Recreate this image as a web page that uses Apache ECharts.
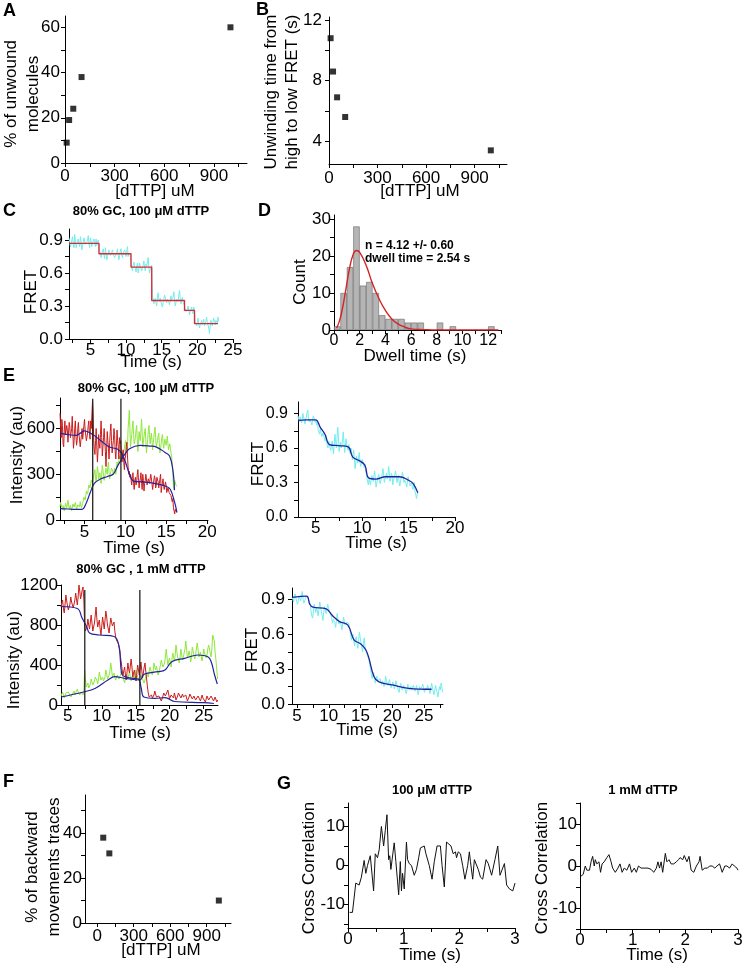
<!DOCTYPE html>
<html><head><meta charset="utf-8">
<script src="https://cdn.jsdelivr.net/npm/echarts@6/dist/echarts.min.js"></script>
<style>html,body{margin:0;padding:0;background:#fff}#c{width:745px;height:968px}</style>
</head><body><div id="c"></div>
<script>
// ---------- DATA ----------
// A: % of unwound molecules vs [dTTP]
const A_dttp = [10, 25, 50, 100, 1000];
const A_pct = [9, 19, 24, 38, 60];
// B: unwinding time vs [dTTP]
const B_dttp = [10, 25, 50, 100, 1000];
const B_time = [10.8, 8.6, 6.9, 5.6, 3.4];
// C: FRET trace (sampled from t0 with step dt) and step fit
const C_t0 = 2.0, C_dt = 0.1;
const C_fret = [0.92,0.88,0.84,0.87,0.90,0.93,0.86,0.83,0.95,0.89,0.83,0.86,0.89,0.91,0.87,0.84,0.93,0.88,0.81,0.85,
  0.88,0.92,0.91,0.86,0.85,0.88,0.90,0.94,0.86,0.83,0.92,0.89,0.84,0.87,0.89,0.91,0.87,0.84,0.91,0.85,0.88,0.90,0.86,
  0.80,0.77,0.74,0.78,0.79,0.82,0.76,0.73,0.83,0.78,0.72,0.75,0.78,0.81,0.80,0.76,0.75,0.79,0.81,0.77,
  0.77,0.74,0.73,0.77,0.79,0.82,0.76,0.72,0.76,0.80,0.82,0.77,0.74,0.78,0.78,0.81,0.80,0.75,0.76,0.84,0.75,0.78,0.79,0.76,
  0.68,0.64,0.62,0.67,0.70,0.66,0.64,0.61,0.66,0.69,0.60,0.64,0.69,0.66,0.65,0.62,0.63,0.67,0.71,0.65,
  0.62,0.68,0.66,0.70,0.74,0.65,0.60,0.63,0.65,0.67,
  0.40,0.36,0.32,0.35,0.37,0.33,0.30,0.38,0.42,0.36,0.34,0.37,0.38,0.31,0.29,0.33,0.36,0.40,0.41,0.35,
  0.33,0.36,0.37,0.34,0.31,0.35,0.39,0.36,0.35,0.38,0.43,0.36,0.30,0.33,0.36,0.35,0.34,0.40,0.44,0.37,0.32,0.35,0.38,0.34,0.35,0.33,
  0.28,0.25,0.24,0.27,0.30,0.26,0.22,0.25,0.27,0.29,0.25,0.23,0.29,0.26,
  0.16,0.14,0.12,0.15,0.19,0.13,0.10,0.13,0.15,0.17,0.13,0.16,0.18,0.12,0.11,0.16,0.20,0.15,0.14,0.10,
  0.05,0.12,0.17,0.14,0.12,0.16,0.19,0.15,0.13,0.17,0.16,0.14,0.20,0.16];
const C_stepT = [2, 6.2, 10.7, 13.6, 18.2, 19.6, 22.9];
const C_stepV = [0.87, 0.775, 0.653, 0.35, 0.26, 0.14, 0.14];
// D: dwell-time histogram (bin centres, counts) and fit curve
const D_bin = [0.25,0.75,1.25,1.75,2.25,2.75,3.25,3.75,4.25,4.75,5.25,5.75,6.25,6.75,8.25,9.25,12.25];
const D_count = [1,10,17,28,12,13,10,4,3,3,3,2,2,2,2,1,1];
const D_fitT = [0.2,0.4,0.6,0.9,1.2,1.5,1.75,2.0,2.5,3.0,3.5,4.0,4.5,5.0,5.5,6.0,7,8,10,12.8];
const D_fitV = [0.5,2.2,4.8,10.5,16.5,20.5,21.5,21,17.5,12.5,8.5,5.3,3.0,1.6,0.8,0.3,0.1,0,0,0];
// E top (100 uM): donor/acceptor intensities, fits, FRET
const E1_t0 = 2.0, E1_dt = 0.075;
const E1_red = [700,610,540,660,620,500,480,590,650,560,560,620,590,510,500,640,610,540,530,600,
  680,560,470,520,600,650,550,490,520,600,640,560,570,480,490,560,600,530,540,620,
  660,590,580,520,510,570,620,650,570,530,650,600,590,
  780,700,520,460,430,520,600,480,380,450,560,500,470,560,650,540,420,480,540,600,
  600,450,350,460,580,520,470,400,510,580,630,520,440,480,520,600,560,450,400,480,590,520,480,400,540,500,
  520,460,380,430,460,380,330,400,420,480,510,420,350,300,320,280,300,260,
  230,290,310,240,200,260,280,230,250,300,330,260,210,250,270,310,240,200,300,260,
  190,240,260,300,290,230,220,270,280,240,250,300,310,240,200,230,240,290,270,210,
  230,280,290,250,210,240,250,300,180,220,240,270,220,200,200,250,230,180,170,210,210,180,190,170,
  160,150,120,140,80,60,40,70,60,50];
const E1_green = [90,115,120,85,70,95,105,60,65,110,105,80,85,130,125,75,80,95,100,60,
  65,105,110,85,80,115,120,70,75,100,95,90,85,120,115,80,95,
  110,130,150,140,130,160,190,180,170,200,230,220,210,240,260,250,240,270,
  280,310,330,270,250,300,350,320,270,290,310,270,240,300,360,330,290,260,260,310,
  340,320,300,350,380,310,270,300,320,340,350,320,300,310,
  340,320,300,340,380,360,350,390,420,400,390,420,450,430,400,440,470,500,520,480,440,470,
  600,650,720,600,480,520,560,610,650,560,500,520,540,590,620,530,450,510,580,540,
  520,590,660,570,480,510,550,580,600,510,440,490,530,580,620,560,500,540,570,520,
  460,500,540,580,610,540,480,500,520,550,570,500,440,470,500,540,560,510,470,500,
  530,510,490,520,550,500,460,480,500,470,
  440,420,360,300,220,200,260,250,230,220];
const E1_fitRedT = [2,3,4,5,6,7,8,9,9.5,10,10.5,11,12,13,14,15,15.5,16,16.3];
const E1_fitRedV = [570,560,555,585,560,520,480,465,440,380,300,255,250,245,235,220,200,120,50];
const E1_fitGreenT = [2,3,4,4.7,5.2,5.7,6.2,7,7.8,8.5,9.1,9.8,10.5,11.8,13,13.8,14.8,15.4,15.8,16.0];
const E1_fitGreenV = [75,72,70,70,110,180,240,270,285,300,360,420,467,490,485,478,445,420,330,195];
const E1_marks = [6.0, 9.45];
const E1F_t0 = 3.1, E1F_dt = 0.075;
const E1_fret = [0.88,0.85,0.83,0.87,0.86,0.82,0.84,0.90,0.87,0.84,0.81,0.85,0.87,0.91,0.93,0.86,0.83,0.85,0.86,0.82,
  0.80,0.85,0.88,0.86,0.85,0.82,0.84,
  0.80,0.82,0.76,0.74,0.72,0.77,0.78,0.70,0.69,0.73,0.74,0.68,0.66,0.71,0.70,0.62,0.60,0.66,0.64,0.60,
  0.58,0.62,0.66,0.60,0.55,0.63,0.72,0.66,0.60,0.68,0.78,0.70,0.57,0.61,0.65,0.60,0.62,0.68,0.74,0.64,
  0.56,0.62,0.68,0.63,0.60,0.58,
  0.63,0.58,0.55,0.60,0.56,0.50,0.54,0.58,0.50,0.42,0.48,0.53,0.50,0.47,0.52,0.56,0.48,0.44,0.47,0.50,
  0.48,0.46,0.43,0.46,
  0.40,0.38,0.34,0.30,0.28,0.33,0.34,0.28,0.32,0.36,0.34,0.31,0.36,0.40,0.33,0.26,0.29,0.33,0.35,0.37,
  0.32,0.29,0.32,0.35,0.38,0.42,0.36,0.30,0.33,0.36,0.38,0.33,0.36,0.44,0.39,0.31,0.34,0.38,0.36,0.28,
  0.31,0.35,0.37,0.40,0.36,0.30,0.33,0.36,0.35,0.27,0.30,0.34,0.36,0.39,0.35,0.30,0.32,0.33,0.29,0.26,
  0.30,0.35,0.32,0.30,0.27,0.28,0.30,0.26,0.24,0.27,0.30,0.22,0.20,0.16,0.19,0.22];
const E1_fitFretT = [3.1,4,5,5.5,6,6.5,7.5,8.5,9,9.7,10.3,10.7,11.5,12.5,14,15,15.5,16];
const E1_fitFretV = [0.84,0.845,0.845,0.78,0.72,0.63,0.62,0.61,0.52,0.49,0.45,0.34,0.33,0.35,0.35,0.32,0.29,0.21];
// E bottom (1 mM)
const E2_t0 = 4.0, E2_dt = 0.12;
const E2_red = [980,1020,1050,960,920,1010,1100,1040,990,950,940,1010,1080,1030,1010,970,960,1050,1120,1060,
  1000,1080,1200,1140,1060,1100,1150,1180,1050,
  800,740,720,790,860,800,760,830,900,820,740,780,820,900,980,860,780,820,850,760,
  700,790,880,820,760,850,940,880,800,760,720,800,870,830,790,810,830,740,680,650,640,620,600,
  560,480,420,350,300,340,380,300,250,330,420,360,320,390,460,380,280,320,350,290,
  240,320,400,350,300,360,430,350,270,320,380,420,330,
  260,180,120,80,60,90,100,70,50,100,140,110,80,70,60,90,110,70,40,60,
  90,120,130,90,70,100,150,110,60,80,100,120,80,70,120,90,50,70,90,120,
  140,100,70,90,110,80,60,90,100,70,40,60,80,110,120,90,60,70,90,110,
  50,60,70,90,110,80,40,60,100,70,60,80,30,60,90,70,50,60,70,90,
  110,80,40,60,80,60,30,50];
const E2_green = [90,110,130,100,70,90,120,110,100,130,150,110,80,100,110,130,140,100,90,120,
  160,130,120,100,110,130,120,100,130,
  350,250,180,200,220,170,160,210,260,230,200,220,240,280,300,250,210,260,330,290,
  250,270,280,240,220,280,350,310,260,280,300,340,420,360,280,300,320,280,250,270,300,280,260,
  260,300,340,310,290,250,220,270,310,290,270,300,330,280,240,270,300,280,260,300,
  350,310,280,260,240,270,300,280,260,240,220,250,230,
  320,300,280,330,380,350,330,300,340,420,380,350,390,350,300,330,360,410,450,410,
  380,400,420,480,560,480,400,440,470,430,380,450,520,480,440,500,600,540,480,450,
  420,480,560,500,450,480,500,560,640,560,470,500,540,500,430,480,580,540,500,460,
  500,560,620,560,480,500,530,480,440,490,560,520,500,470,500,560,600,560,520,480,
  560,700,680,640,520,450,350,260];
const E2_fitRedT = [4,6.4,7.1,7.8,8.2,9.6,11.8,12.5,12.9,13.2,14.4,15.4,15.8,16.2,17.8,19.3,20.7,25,26.5];
const E2_fitRedV = [985,965,870,780,720,700,685,600,320,290,268,260,170,80,67,73,35,23,15];
const E2_fitGreenT = [4,7.3,9,10.9,11.9,13.4,15.6,16.1,16.6,18.3,19.3,20.3,22.2,24.2,25.6,26.1,26.6,27];
const E2_fitGreenV = [80,130,165,250,283,267,250,300,317,333,350,433,467,500,483,433,300,210];
const E2_marks = [7.5, 15.6];
const E2F_t0 = 4.2, E2F_dt = 0.125;
const E2_fret = [0.92,0.90,0.88,0.93,0.95,0.91,0.90,0.86,0.89,0.93,0.92,0.89,0.94,0.97,0.90,0.87,0.89,0.91,0.93,0.94,
  0.92,0.90,0.88,
  0.86,0.80,0.76,0.74,0.80,0.86,0.82,0.79,0.83,0.80,0.76,0.82,0.88,0.84,0.80,0.76,0.72,0.79,0.84,0.81,
  0.78,0.82,0.86,0.83,0.80,0.79,
  0.77,0.74,0.70,0.73,0.74,0.70,0.66,0.72,0.78,0.73,0.69,0.71,0.72,0.68,0.64,0.70,0.75,0.71,0.68,0.70,
  0.71,0.69,0.70,0.68,
  0.64,0.60,0.55,0.58,0.60,0.54,0.50,0.56,0.58,0.52,0.48,0.55,0.62,0.57,0.53,0.49,0.45,0.52,0.57,0.50,
  0.47,0.44,0.42,0.40,
  0.38,0.34,0.30,0.26,0.22,0.25,0.27,0.22,0.18,0.21,0.24,0.20,0.19,0.21,
  0.22,0.19,0.17,0.20,0.18,0.15,0.17,0.24,0.20,0.18,0.16,0.19,0.21,0.17,0.14,0.16,0.19,0.17,0.13,0.16,
  0.20,0.17,0.15,0.12,0.10,0.14,0.18,0.15,0.12,0.14,0.16,0.14,0.13,0.09,0.12,0.17,0.15,0.12,0.11,0.15,
  0.12,0.13,0.16,0.14,0.11,0.13,0.16,0.13,0.08,0.11,0.15,0.13,0.12,0.15,0.17,0.13,0.10,0.12,0.14,0.12,
  0.16,0.14,0.12,0.09,0.13,0.18,0.15,0.11,0.08,0.12,0.16,0.13,0.10,0.06,0.11,0.15,0.12,0.18,0.14,0.10];
const E2_fitFretT = [4.2,6.5,7.0,7.5,9.6,10.6,11.7,13.0,14.0,15.0,15.8,16.3,17.1,17.9,20,22.6,26.2];
const E2_fitFretV = [0.92,0.93,0.86,0.835,0.82,0.76,0.71,0.68,0.55,0.52,0.47,0.40,0.24,0.19,0.165,0.135,0.127];
// F: % of backward movement traces
const F_dttp = [50, 100, 1000];
const F_pct = [38, 31, 10];
// G: cross correlation
const G1_t = [0.03,0.08,0.14,0.2,0.24,0.29,0.32,0.35,0.4,0.42,0.46,0.49,0.53,0.56,0.6,0.64,0.67,0.7,0.73,0.75,0.77,0.8,0.83,0.86,0.89,0.91,0.94,0.96,0.98,1.01,1.05,1.07,1.1,1.14,1.19,1.23,1.27,1.3,1.33,1.37,1.4,1.46,1.51,1.55,1.6,1.62,1.66,1.69,1.73,1.77,1.8,1.85,1.89,1.93,1.95,1.98,2.02,2.06,2.1,2.15,2.18,2.2,2.24,2.27,2.3,2.34,2.38,2.42,2.48,2.52,2.58,2.64,2.69,2.73,2.76,2.81,2.85,2.9,2.96,2.98,3.0];
const G1_v = [-12,-12,-4.5,-5,-3,1.3,-2,0,2.5,3,-6.5,3,2,4,10,5,9,13,1.5,2.5,-1,-1,5.8,1,-4,-7.5,1,-6.5,-2,-6,6,1.5,0.5,0,-2.5,-1,2,4.5,4,5,3,0,-3.5,1,5,4.5,5,0,-5.5,6,6.5,5,3,3.5,2,3.5,3,0,-3.5,0,3.5,1,-3.5,1.5,1.5,-1,-3,-3.5,1.5,0.5,-2.5,1.5,5,-2.5,-2.5,0.5,-5,-6,-6.5,-6,-4.5];
const G2_t = [0.02,0.06,0.1,0.13,0.18,0.21,0.24,0.27,0.29,0.32,0.36,0.39,0.42,0.46,0.51,0.55,0.59,0.62,0.67,0.72,0.76,0.8,0.84,0.89,0.94,0.98,1.03,1.07,1.11,1.16,1.22,1.29,1.35,1.4,1.45,1.48,1.51,1.54,1.57,1.62,1.65,1.69,1.73,1.78,1.83,1.87,1.9,1.95,1.98,2.03,2.07,2.11,2.16,2.21,2.26,2.28,2.32,2.37,2.42,2.46,2.51,2.56,2.6,2.65,2.7,2.75,2.79,2.84,2.89,2.93,2.98,3.0];
const G2_v = [-2.4,-2,0,-1,-1,1,2.3,0,1.5,0.5,1,-1.5,0.5,1,2,2.7,1,-0.5,-1.5,-0.5,0.5,-1.5,-0.5,-1,0.5,-1.5,-0.5,-1.5,0,-0.5,-0.5,-0.5,-0.8,-1.5,-0.5,1,-0.5,1,-1.5,3,1,1.5,0.5,0.5,1,1.5,2,1.5,2.5,1,2.3,-1,-1.5,0,1,2.3,-1,-0.5,-0.5,0,0,-0.5,0,0.5,-1.5,0,0,-0.5,0.5,0,-0.5,-1];
// tick labels
const T_conc = [0, 300, 600, 900];
const T_pctA = [0, 20, 40, 60];
const T_timeB = [4, 8, 12];
const T_fret = [0, 0.3, 0.6, 0.9];
const T_timeC = [5, 10, 15, 20, 25];
const T_countD = [0, 10, 20, 30];
const T_dwellD = [0, 2, 4, 6, 8, 10, 12];
const T_timeE1 = [5, 10, 15, 20];
const T_intE1 = [0, 300, 600];
const T_timeE2 = [5, 10, 15, 20, 25];
const T_intE2 = [0, 400, 800, 1200];
const T_pctF = [0, 20, 40];
const T_ccX = [0, 1, 2, 3];
const T_ccY = [-10, 0, 10];

// ---------- BUILD ----------
const FONT = '"Liberation Sans", Arial, Helvetica, sans-serif';
const CYAN = '#72eeee', RED = '#cc1c1c', GREEN = '#8fe83c', BLUE = '#22229e', STEPRED = '#e3262e';
const zip = (a, b) => a.map((v, i) => [v, b[i]]);
const sampled = (t0, dt, vals) => vals.map((v, i) => [Math.round((t0 + i * dt) * 1000) / 1000, v]);

const grids = [], xAxes = [], yAxes = [], series = [];
const plain = v => String(v);
function axis(gi, min, max, ticks, labels, o) {
  o = o || {};
  return {
    type: 'value', gridIndex: gi, min: min, max: max,
    axisLine: { show: true, onZero: false, lineStyle: { color: '#000', width: 1 } },
    axisTick: { show: true, length: 4, customValues: ticks, lineStyle: { color: '#000', width: 1 } },
    axisLabel: { customValues: labels, color: '#000', fontFamily: FONT, fontSize: o.fs || 17,
      margin: o.margin == null ? 5 : o.margin, formatter: o.fmt || plain },
    splitLine: { show: false }
  };
}
function panel(g, x, y) {
  const gi = grids.length;
  grids.push({ left: g[0], top: g[1], width: g[2], height: g[3], outerBoundsMode: 'none', containLabel: false });
  xAxes.push(axis(gi, x[0], x[1], x[2], x[3], x[4]));
  yAxes.push(axis(gi, y[0], y[1], y[2], y[3], y[4]));
  return gi;
}
const f1 = v => v.toFixed(1);
const range = (a, b, s) => { const r = []; for (let v = a; v <= b + 1e-9; v += s) r.push(Math.round(v * 1000) / 1000); return r; };

function line(gi, data, color, width, extra) {
  series.push(Object.assign({ type: 'line', xAxisIndex: gi, yAxisIndex: gi, data: data, showSymbol: false,
    symbol: 'none', lineStyle: { color: color, width: width || 1 }, silent: true, z: 2 }, extra || {}));
}
function scatter(gi, data) {
  series.push({ type: 'scatter', xAxisIndex: gi, yAxisIndex: gi, data: data, symbol: 'rect', symbolSize: 6,
    itemStyle: { color: '#000' }, silent: true });
}

// A
const gA = panel([65, 16, 182, 147], [0, 1100, range(0, 1050, 150), T_conc, {margin: 5}], [0, 65, range(0, 60, 10), T_pctA, {margin: 5}]);
scatter(gA, zip(A_dttp, A_pct));
// B
const gB = panel([329, 17, 178, 147], [0, 1100, range(0, 1050, 150), T_conc, {margin: 6}], [2.5, 12.2, [4, 6, 8, 10, 12], T_timeB, {margin: 7}]);
scatter(gB, zip(B_dttp, B_time));
// C
const gC = panel([69, 229, 164, 110], [2, 25, range(2.5, 25, 2.5), T_timeC, {margin: 3}], [0, 1.0, range(0, 0.9, 0.15), T_fret, {margin: 6, fmt: f1}]);
line(gC, sampled(C_t0, C_dt, C_fret), CYAN, 1);
line(gC, zip(C_stepT, C_stepV), STEPRED, 1.3, { step: 'end', z: 3 });
// D
const gD = panel([334, 215, 167, 115], [0, 13, range(0, 13, 1), T_dwellD, {margin: 3, fs: 16}], [0, 31.1, range(0, 30, 5), T_countD, {margin: 3, fs: 17}]);
series.push({ type: 'bar', xAxisIndex: gD, yAxisIndex: gD, data: zip(D_bin, D_count), barWidth: 6.4,
  itemStyle: { color: '#b5b5b5', borderColor: '#666', borderWidth: 0.6 }, silent: true });
line(gD, zip(D_fitT, D_fitV), '#d42424', 1.4, { smooth: true, z: 4 });
// E top left
const gE1 = panel([60, 398, 148, 122], [2, 20.1, range(2.5, 20, 2.5), T_timeE1, {margin: 4}], [0, 800, range(0, 750, 150), T_intE1, {margin: 5}]);
line(gE1, sampled(E1_t0, E1_dt, E1_green), GREEN, 1);
line(gE1, sampled(E1_t0, E1_dt, E1_red), RED, 1);
line(gE1, zip(E1_fitRedT, E1_fitRedV), BLUE, 1.2, { smooth: 0.4, z: 4 });
line(gE1, zip(E1_fitGreenT, E1_fitGreenV), BLUE, 1.2, { smooth: 0.4, z: 4 });
E1_marks.forEach(m => line(gE1, [[m, 0], [m, 795]], '#222', 1.3, { z: 5 }));
// E top right
const gE1F = panel([298, 402, 157, 115], [3.1, 20, range(5, 20, 2.5), T_timeE1, {margin: 3}], [0, 1.0, range(0, 0.9, 0.15), T_fret, {margin: 10, fs: 16, fmt: f1}]);
line(gE1F, sampled(E1F_t0, E1F_dt, E1_fret), CYAN, 1);
line(gE1F, zip(E1_fitFretT, E1_fitFretV), BLUE, 1.3, { smooth: 0.4, z: 4 });
// E bottom left
const gE2 = panel([61, 585, 157, 120], [4, 27.1, range(5, 25, 2.5), T_timeE2, {margin: 3}], [0, 1200, range(0, 1200, 200), T_intE2, {margin: 3}]);
line(gE2, sampled(E2_t0, E2_dt, E2_green), GREEN, 1);
line(gE2, sampled(E2_t0, E2_dt, E2_red), RED, 1);
line(gE2, zip(E2_fitRedT, E2_fitRedV), BLUE, 1.2, { smooth: 0.4, z: 4 });
line(gE2, zip(E2_fitGreenT, E2_fitGreenV), BLUE, 1.2, { smooth: 0.4, z: 4 });
E2_marks.forEach(m => line(gE2, [[m, 0], [m, 1150]], '#222', 1.3, { z: 5 }));
// E bottom right
const gE2F = panel([292, 588, 151, 116], [4.2, 28, range(5, 27.5, 2.5), T_timeE2, {margin: 4}], [0, 1.0, range(0, 0.9, 0.15), T_fret, {margin: 7, fmt: f1}]);
line(gE2F, sampled(E2F_t0, E2F_dt, E2_fret), CYAN, 1);
line(gE2F, zip(E2_fitFretT, E2_fitFretV), BLUE, 1.3, { smooth: 0.4, z: 4 });
// F
const gF = panel([85, 795, 146, 128], [-100, 1100, range(0, 1050, 150), T_conc, {margin: 5}], [0, 57, range(0, 50, 10), T_pctF, {margin: 3}]);
scatter(gF, zip(F_dttp, F_pct));
// G
const gG1 = panel([348, 803, 167, 125], [0, 3, range(0, 3, 0.5), T_ccX, {margin: 3}], [-16, 16, range(-15, 15, 5), T_ccY, {margin: 3}]);
line(gG1, zip(G1_t, G1_v), '#111', 1);
const gG2 = panel([580, 803, 158, 126], [0, 3, range(0, 3, 0.5), T_ccX, {margin: 3}], [-15, 15, range(-15, 15, 5), T_ccY, {margin: 3}]);
line(gG2, zip(G2_t, G2_v), '#111', 1);

// ---------- TEXT ----------
const texts = [];
function txt(s, x, y, size, bold, rot, align) {
  texts.push({ type: 'text', x: x, y: y, rotation: rot ? Math.PI / 2 : 0, silent: true, z: 10,
    style: { text: s, x: 0, y: 0, fill: '#000', font: (bold ? 'bold ' : '') + size + 'px ' + FONT,
      textAlign: align || 'center', align: align || 'center', textVerticalAlign: 'middle', verticalAlign: 'middle' } });
}
// panel letters
txt('A', 3, 11, 18, true, false, 'left');
txt('B', 256, 10, 18, true, false, 'left');
txt('C', 3, 211, 18, true, false, 'left');
txt('D', 258, 211, 18, true, false, 'left');
txt('E', 3, 376, 18, true, false, 'left');
txt('F', 3, 782, 18, true, false, 'left');
txt('G', 277, 784, 18, true, false, 'left');
// titles
txt('80% GC, 100 \u03bcM dTTP', 141, 211, 13, true);
txt('80% GC, 100 \u03bcM dTTP', 146, 388, 13, true);
txt('80% GC , 1 mM dTTP', 141, 569, 13, true);
txt('100 \u03bcM dTTP', 432, 790, 13, true);
txt('1 mM dTTP', 643, 790, 13, true);
// axis names
txt('% of unwound', 11, 94, 17, false, true);
txt('molecules', 33, 94, 17, false, true);
txt('[dTTP] uM', 155, 191, 17);
txt('Unwinding time from', 271, 92, 17, false, true);
txt('high to low FRET (s)', 292, 92, 17, false, true);
txt('[dTTP] uM', 420, 191, 17);
txt('FRET', 31, 292, 17, false, true);
txt('Time (s)', 151, 362, 17);
txt('Count', 300, 282, 17, false, true);
txt('Dwell time (s)', 415, 356, 17);
txt('n = 4.12 +/- 0.60', 365, 246, 12, true, false, 'left');
txt('dwell time = 2.54 s', 365, 259, 12, true, false, 'left');
txt('Intensity (au)', 17, 455, 17, false, true);
txt('Time (s)', 134, 548, 17);
txt('FRET', 258, 464, 17, false, true);
txt('Time (s)', 376, 543, 17);
txt('Intensity (au)', 14, 660, 17, false, true);
txt('Time (s)', 140, 733, 17);
txt('FRET', 252, 650, 17, false, true);
txt('Time (s)', 367, 730, 17);
txt('% of backward', 32, 867, 17, false, true);
txt('movements traces', 54, 867, 17, false, true);
txt('[dTTP] uM', 161, 950, 17);
txt('Cross Correlation', 309, 868, 17, false, true);
txt('Time (s)', 430, 955, 17);
txt('Cross Correlation', 542, 868, 17, false, true);
txt('Time (s)', 657, 955, 17);

const chart = echarts.init(document.getElementById('c'), null, { renderer: 'canvas' });
chart.setOption({
  animation: false,
  backgroundColor: '#fff',
  grid: grids, xAxis: xAxes, yAxis: yAxes, series: series,
  graphic: { elements: texts }
});
</script></body></html>
